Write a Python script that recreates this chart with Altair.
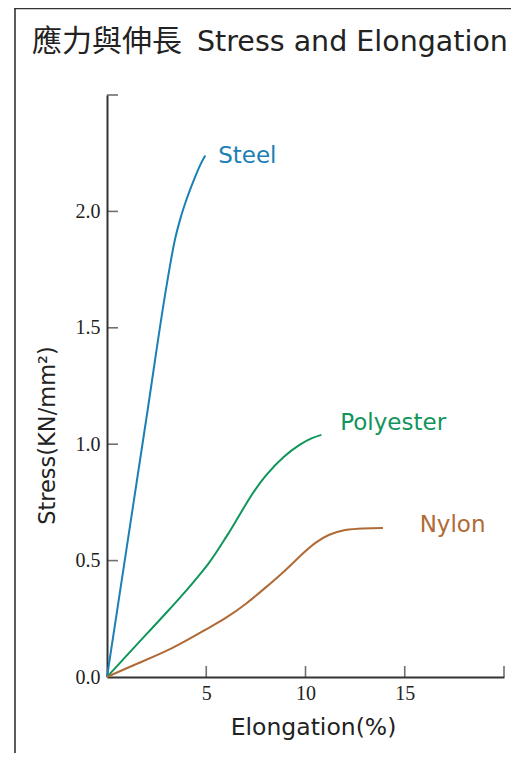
import altair as alt
import pandas as pd

# ---- data ----
steel_x = [0, 1, 2, 3, 3.4, 3.7, 4.0, 4.4, 4.7, 4.95]
steel_y = [0, 0.56, 1.12, 1.68, 1.87, 1.97, 2.05, 2.14, 2.20, 2.24]

poly_x = [0, 1, 2, 3, 4, 4.7, 5.1, 5.5, 6.0, 6.4, 7.2, 8.0, 8.9, 9.7, 10.3, 10.8]
poly_y = [0, 0.093, 0.185, 0.277, 0.372, 0.443, 0.486, 0.535, 0.601, 0.656, 0.77, 0.865, 0.945, 0.997, 1.025, 1.04]

nylon_x = [0, 1.6, 3.3, 4.9, 6.0, 7.0, 8.0, 9.0, 9.8, 10.5, 11.2, 12.0, 12.9, 13.9]
nylon_y = [0, 0.06, 0.125, 0.20, 0.255, 0.315, 0.385, 0.46, 0.525, 0.576, 0.611, 0.631, 0.638, 0.64]

series = ["Steel", "Polyester", "Nylon"]
colors = ["#1a80b6", "#10955a", "#b06a36"]

label_x = [5.6, 11.75, 15.75]
label_y = [2.24, 1.09, 0.655]

x_ticks = [0, 5, 10, 15, 20]
y_ticks = [0, 0.5, 1.0, 1.5, 2.0, 2.5]

title_cn = "應力與伸長"
title_en = "Stress and Elongation"
x_title = "Elongation(%)"
y_title = "Stress(KN/mm²)"

rows = []
for name, xs_, ys_ in zip(series, [steel_x, poly_x, nylon_x], [steel_y, poly_y, nylon_y]):
    for i, (a, b) in enumerate(zip(xs_, ys_)):
        rows.append({"series": name, "x": a, "y": b, "order": i})
df = pd.DataFrame(rows)
labels = pd.DataFrame({"series": series, "x": label_x, "y": label_y})

W, H = 397, 582
AXIS = "#333333"
GEO = "DejaVu Sans"

color_scale = alt.Scale(domain=series, range=colors)
xs = alt.Scale(domain=[0, 20], nice=False, zero=True)
ys = alt.Scale(domain=[0, 2.5], nice=False, zero=True)

base = alt.Chart(df).encode(
    x=alt.X("x:Q", scale=xs, title=x_title,
            axis=alt.Axis(values=x_ticks, ticks=False, tickSize=0, grid=False,
                          labelExpr="datum.value == 0 || datum.value == 20 ? '' : datum.label",
                          labelPadding=6, titlePadding=12, titleX=206, titleFontSize=23.5)),
    y=alt.Y("y:Q", scale=ys, title=y_title,
            axis=alt.Axis(values=y_ticks, ticks=False, tickSize=0, grid=False, format=".1f",
                          labelExpr="datum.value == 2.5 ? '' : datum.label",
                          labelPadding=7, titlePadding=16, titleY=340, titleFontSize=22.5)),
    color=alt.Color("series:N", scale=color_scale, legend=None),
    order="order:Q",
)
steel_line = base.mark_line(strokeWidth=2, interpolate="monotone").transform_filter(
    alt.datum.series == "Steel")
other_lines = base.mark_line(strokeWidth=2, interpolate="natural").transform_filter(
    alt.datum.series != "Steel")

text = alt.Chart(labels).mark_text(align="left", baseline="middle", font=GEO, fontSize=23).encode(
    x=alt.X("x:Q", scale=xs), y=alt.Y("y:Q", scale=ys), text="series:N",
    color=alt.Color("series:N", scale=color_scale, legend=None),
)

xt = alt.Chart(pd.DataFrame({"v": x_ticks[1:], "z": [0] * 4})).mark_tick(
    orient="vertical", size=11, yOffset=-5.5, thickness=1.6, color=AXIS
).encode(x=alt.X("v:Q", scale=xs), y=alt.Y("z:Q", scale=ys))

yt = alt.Chart(pd.DataFrame({"v": y_ticks[1:], "z": [0] * 5})).mark_tick(
    orient="horizontal", size=11, xOffset=5.5, thickness=1.6, color=AXIS
).encode(y=alt.Y("v:Q", scale=ys), x=alt.X("z:Q", scale=xs))

one = alt.Data(values=[{"a": 1}])
frame_left = alt.Chart(one).mark_rule(color="#333333", strokeWidth=1.6).encode(
    x=alt.value(-92), y=alt.value(-87), y2=alt.value(670))
frame_top = alt.Chart(one).mark_rule(color="#333333", strokeWidth=1.6).encode(
    x=alt.value(-92.8), x2=alt.value(410), y=alt.value(-86.5))
title1 = alt.Chart(one).mark_text(align="left", baseline="alphabetic", fontSize=30,
                                  font="Noto Sans CJK TC", color="#222222").encode(
    x=alt.value(-75), y=alt.value(-44), text=alt.value(title_cn))
title2 = alt.Chart(one).mark_text(align="left", baseline="alphabetic", fontSize=28.5,
                                  font=GEO, color="#222222").encode(
    x=alt.value(90), y=alt.value(-44), text=alt.value(title_en))

chart = alt.layer(frame_left, frame_top, title1, title2, steel_line, other_lines, xt, yt, text).properties(
    width=W, height=H,
    autosize=alt.AutoSizeParams(type="none"),
    padding={"left": 99, "top": 87, "right": 7, "bottom": 76},
).configure_view(stroke=None).configure_axis(
    domainColor=AXIS, domainWidth=2,
    labelFont="Liberation Serif", labelFontSize=20, labelColor="#222222",
    titleFont=GEO, titleFontWeight="normal", titleColor="#222222",
)

chart.save("out.html", embed_options={"renderer": "svg", "actions": False})
